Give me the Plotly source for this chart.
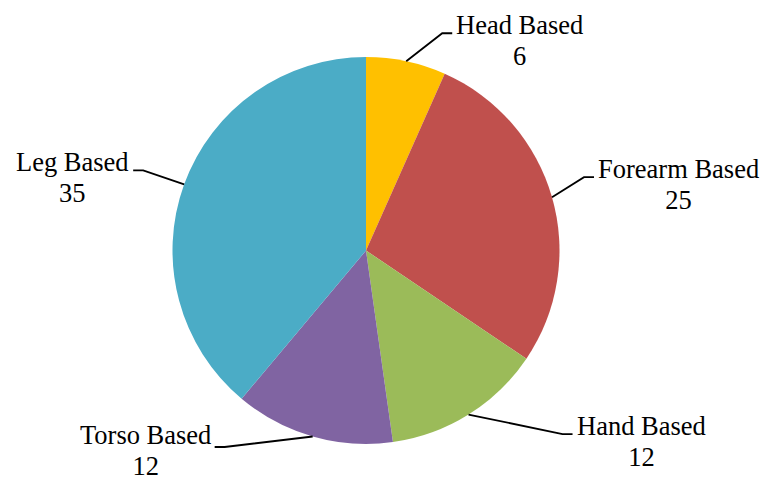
import math
import plotly.graph_objects as go

# ---- data ----
categories = ["Head Based", "Forearm Based", "Hand Based", "Torso Based", "Leg Based"]
values = [6, 25, 12, 12, 35]
colors = ["#FFC000", "#C0504D", "#9BBB59", "#8064A2", "#4BACC6"]

# ---- layout / style ----
W, H = 762, 480
CX, CY, R = 366, 250.5, 193.5          # pie centre & radius in pixels
# leader-line elbow offsets (px) from the slice's edge point, per label
elbow_offsets = [(36, -28), (32, -20), (94, 19.5), (-88, 10.5), (-41, -14)]
# vertical nudge of each label block relative to its leader tail (px, down +)
text_nudge = [7, 7, 7, 3, 7]
TAIL = 10
TEXT_PX = 26.5
# base font sets line spacing (1.3 * size = ~31px); inner spans set glyph size
FONT = dict(family="Liberation Serif, Times New Roman, serif", size=23.8, color="black")

fig = go.Figure(go.Pie(
    labels=categories, values=values, sort=False, direction="clockwise",
    rotation=0, marker=dict(colors=colors, line=dict(width=0)),
    textinfo="none", showlegend=False,
    domain=dict(x=[(CX - R) / W, (CX + R) / W],
                y=[(H - CY - R) / H, (H - CY + R) / H]),
))

def px(x, y):
    return x / W, 1 - y / H

total = sum(values)
cum = 0
shapes, annotations = [], []
for name, v, (ox, oy), nud in zip(categories, values, elbow_offsets, text_nudge):
    mid = (cum + v / 2) / total * 2 * math.pi
    cum += v
    sx = CX + R * math.sin(mid)
    sy = CY - R * math.cos(mid)
    ex, ey = sx + ox, sy + oy
    right = ox > 0
    tx = ex + (TAIL if right else -TAIL)
    p = [px(sx, sy), px(ex, ey), px(tx, ey)]
    shapes.append(dict(type="path", xref="paper", yref="paper",
                       path="M {} {} L {} {} L {} {}".format(p[0][0], p[0][1], p[1][0], p[1][1], p[2][0], p[2][1]),
                       line=dict(color="black", width=1.8)))
    ax, ay = px(tx + (3 if right else -3), ey + nud)
    txt = (f"<span style='font-size:{TEXT_PX}px'>{name}</span><br>"
           f"<span style='font-size:{TEXT_PX}px'>{v}</span>")
    annotations.append(dict(xref="paper", yref="paper", x=ax, y=ay,
                            text=txt, showarrow=False, align="center",
                            xanchor="left" if right else "right", yanchor="middle",
                            font=FONT, borderpad=0))

fig.update_layout(width=W, height=H, margin=dict(l=0, r=0, t=0, b=0),
                  paper_bgcolor="white", plot_bgcolor="white",
                  shapes=shapes, annotations=annotations)
fig.write_html("out.html", config={"displayModeBar": False})

# remove the default 8px body margin so the figure fills the window
with open("out.html", encoding="utf-8") as f:
    html = f.read()
html = html.replace("<body>", '<body style="margin:0;overflow:hidden">', 1)
with open("out.html", "w", encoding="utf-8") as f:
    f.write(html)
